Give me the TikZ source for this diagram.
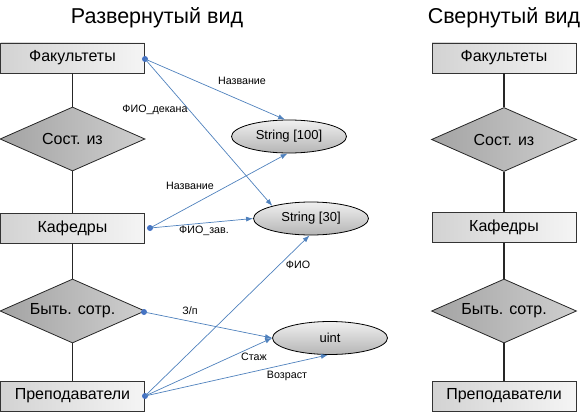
\documentclass[tikz,border=0pt]{standalone}
\usepackage{fontspec}
\setmainfont{Liberation Sans}
\usetikzlibrary{arrows.meta,shapes.geometric}
\definecolor{linkblue}{RGB}{79,129,189}
\definecolor{dotblue}{RGB}{68,114,196}
\newcommand\fsz[1]{\fontsize{#1pt}{#1pt}\selectfont}

\begin{document}
\begin{tikzpicture}[x=1pt, y=-1pt, line width=.1ex,
  entity/.style={rectangle, draw=black!80, line width=.9pt, left color=gray!35, right color=gray!8,
    minimum width=144pt, minimum height=30pt, inner sep=0pt, font=\fsz{16}},
  relation/.style={diamond, shape aspect=2.3, draw=black!85, line width=.8pt, left color=gray!72, right color=gray!38,
    minimum width=145pt, minimum height=64pt, inner sep=0pt, font=\fsz{16}},
  dtype/.style={ellipse, draw=black, line width=.8pt, top color=gray!12, bottom color=gray!58,
    minimum width=115pt, minimum height=33pt, inner sep=0pt, font=\fsz{13}},
  pin/.style={circle, fill=dotblue, minimum size=6pt, inner sep=0pt},
  link/.style={draw=linkblue, line width=.7pt, -{Latex[length=7pt,width=5pt]}},
  tie/.style={line width=1.1pt, black!85},
  lbl/.style={font=\fsz{10.7}, inner sep=1pt},
  ttl/.style={font=\fsz{21.5}}]
\useasboundingbox (0,0) rectangle (580,412);
%\draw[step=10pt,gray,very thin] (0,0) grid (580,412);
%% expanded view
\node[ttl] (titleL) at (157,18) {Развернутый вид};%%
\node[entity] (fakL) at (72.5,58) {Факультеты};%%
\node[relation] (sostL) at (72.5,139) {Сост. из};%%
\node[entity] (kafL) at (72.5,228) {Кафедры};%%
\node[relation] (bytL) at (72.5,311) {Быть. сотр.};%%
\node[entity] (prepL) at (72.5,396) {Преподаватели};%%
\draw[tie] (fakL) -- (sostL) -- (kafL) -- (bytL) -- (prepL);%%
%% types
\node[dtype] (s100) at (289,136.5) {String [100]};%%
\node[dtype] (s30) at (311,218.5) {String [30]};%%
\node[dtype] (uint) at (330,338) {uint};%%
%% attribute links
\node[pin] (fakDot) at (145,59) {};%%
\node[pin] (kafDot) at (150,228) {};%%
\node[pin] (bytDot) at (144,312) {};%%
\node[pin] (prepDot) at (145,396) {};%%
\draw[link] (fakDot.center) -- (s100.103);%%
\draw[link] (fakDot.center) -- (s30.162);%%
\draw[link] (kafDot.center) -- (s100.265);%%
\draw[link] (kafDot.center) -- (s30.west);%%
\draw[link] (prepDot.center) -- (s30.265);%%
\draw[link] (bytDot.center) -- (uint.west);%%
\draw[link] (prepDot.center) -- (uint.west);%%
\draw[link] (prepDot.center) -- (uint.263);%%
\node[lbl] (nameFak) at (242,81) {Название};%%
\node[lbl] (fioDean) at (155,110) {ФИО\_декана};%%
\node[lbl] (nameKaf) at (190,186) {Название};%%
\node[lbl] (fioHead) at (204,231) {ФИО\_зав.};%%
\node[lbl] (fioPrep) at (298,265) {ФИО};%%
\node[lbl] (salary) at (190,311) {З/п};%%
\node[lbl] (tenure) at (254,357) {Стаж};%%
\node[lbl] (age) at (287,376) {Возраст};%%
%% collapsed view
\node[ttl] (titleR) at (504,18) {Свернутый вид};%%
\node[entity] (fakR) at (504,58) {Факультеты};%%
\node[relation] (sostR) at (504,139.5) {Сост. из};%%
\node[entity] (kafR) at (504,227.5) {Кафедры};%%
\node[relation] (bytR) at (504,311) {Быть. сотр.};%%
\node[entity] (prepR) at (504,396) {Преподаватели};%%
\draw[tie] (fakR) -- (sostR) -- (kafR) -- (bytR) -- (prepR);%%
\end{tikzpicture}
\end{document}
